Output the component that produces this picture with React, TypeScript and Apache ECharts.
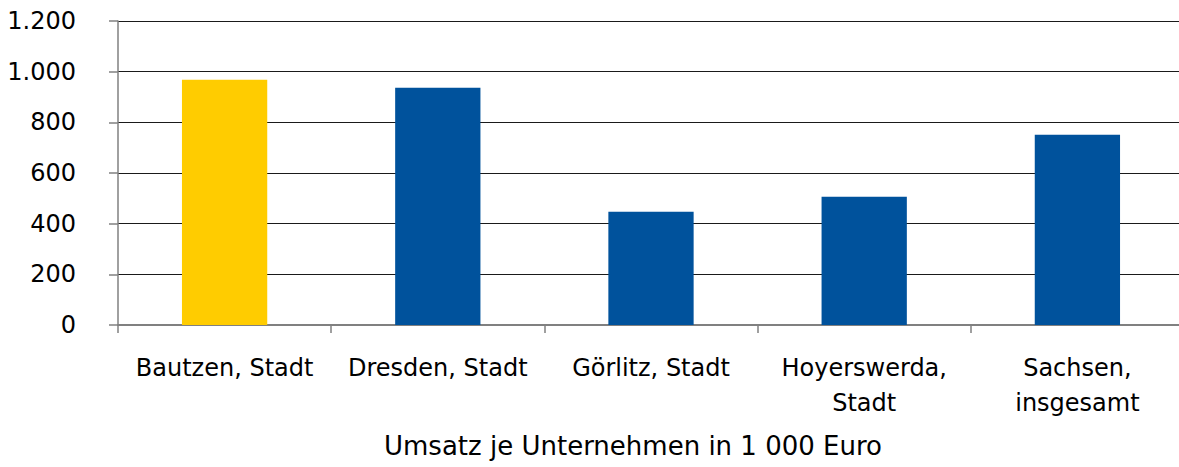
import React, { useEffect, useRef } from "react";
import * as echarts from "echarts";

const categories = [
  "Bautzen, Stadt",
  "Dresden, Stadt",
  "Görlitz, Stadt",
  "Hoyerswerda,\nStadt",
  "Sachsen,\ninsgesamt",
];
const values = [968, 937, 447, 506, 751];
const barColors = ["#FFCC00", "#00529C", "#00529C", "#00529C", "#00529C"];
const axisTitle = "Umsatz je Unternehmen in 1 000 Euro";

const fmt = (v: number) => {
  const s = String(Math.round(v));
  return s.replace(/\B(?=(\d{3})+(?!\d))/g, ".");
};

export default function App() {
  const ref = useRef<HTMLDivElement>(null);
  useEffect(() => {
    if (!ref.current) return;
    const chart = echarts.init(ref.current, undefined, { renderer: "svg" });
    const font = "DejaVu Sans";
    chart.setOption({
      animation: false,
      backgroundColor: "#ffffff",
      grid: { left: 118, right: 6, top: 21, bottom: 142, containLabel: false },
      xAxis: {
        type: "category",
        data: categories,
        boundaryGap: true,
        axisLine: { show: true, lineStyle: { color: "#808080", width: 2 } },
        axisTick: { show: true, length: 8, lineStyle: { color: "#808080", width: 1.5 } },
        axisLabel: {
          interval: 0,
          margin: 25,
          color: "#000",
          fontFamily: font,
          fontSize: 24,
          lineHeight: 35,
        },
        splitLine: { show: false },
      },
      yAxis: {
        type: "value",
        min: 0,
        max: 1200,
        interval: 200,
        axisLine: { show: true, lineStyle: { color: "#808080", width: 1.5 } },
        axisTick: { show: true, length: 9, lineStyle: { color: "#808080", width: 1.5 } },
        axisLabel: {
          margin: 42,
          color: "#000",
          fontFamily: font,
          fontSize: 24,
          formatter: (v: number) => fmt(v),
        },
        splitLine: { show: true, lineStyle: { color: "#1a1a1a", width: 1 } },
      },
      graphic: [
        {
          type: "text",
          x: 633,
          y: 446,
          style: {
            text: axisTitle,
            fontFamily: font,
            fontSize: 26,
            fill: "#000",
            textAlign: "center",
            textVerticalAlign: "middle",
          },
        },
      ],
      series: [
        {
          type: "bar",
          barWidth: "40%",
          data: values.map((v, i) => ({ value: v, itemStyle: { color: barColors[i] } })),
        },
      ],
    });
    return () => chart.dispose();
  }, []);
  return (
    <div style={{ position: "fixed", left: 0, top: 0, width: 1179, height: 467, overflow: "hidden" }}>
      <div ref={ref} style={{ width: 1190, height: 467 }} />
    </div>
  );
}
